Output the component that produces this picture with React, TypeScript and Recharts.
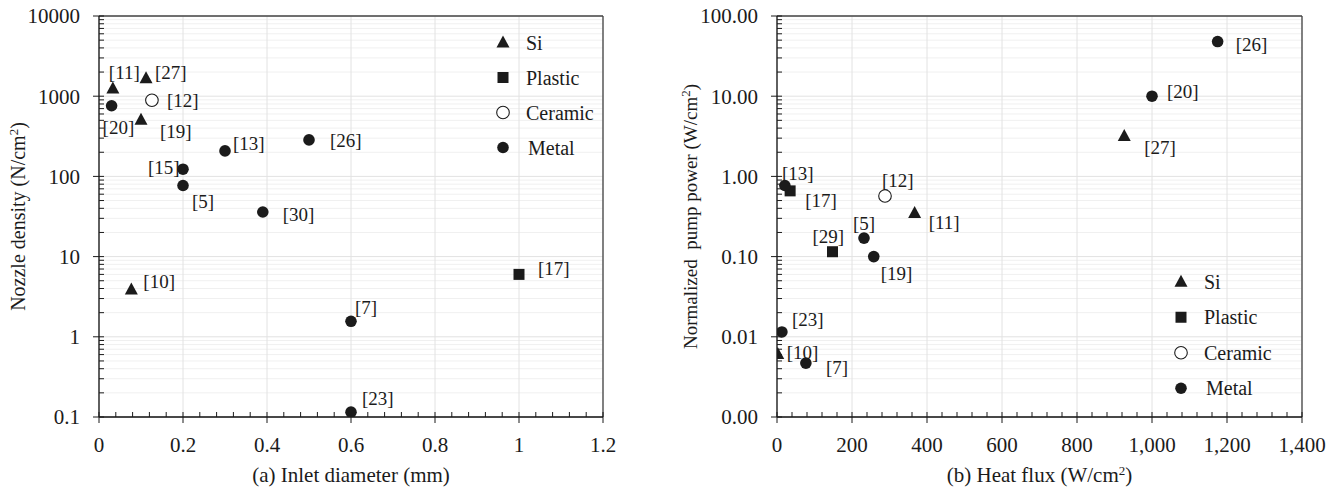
import React from 'react';
import {
  ScatterChart,
  Scatter,
  XAxis,
  YAxis,
  CartesianGrid,
  ReferenceLine,
  Legend,
} from 'recharts';

// (a) nozzle density vs inlet diameter
const SI_A = [
  { ref: '[11]', x: 0.033, y: 1250 },
  { ref: '[27]', x: 0.112, y: 1670 },
  { ref: '[19]', x: 0.1, y: 510 },
  { ref: '[10]', x: 0.077, y: 3.9 },
];
const PLASTIC_A = [{ ref: '[17]', x: 1.0, y: 6.0 }];
const CERAMIC_A = [{ ref: '[12]', x: 0.126, y: 890 }];
const METAL_A = [
  { ref: '[20]', x: 0.03, y: 760 },
  { ref: '[15]', x: 0.2, y: 123 },
  { ref: '[5]', x: 0.2, y: 77 },
  { ref: '[13]', x: 0.3, y: 208 },
  { ref: '[26]', x: 0.5, y: 285 },
  { ref: '[30]', x: 0.39, y: 36 },
  { ref: '[7]', x: 0.6, y: 1.56 },
  { ref: '[23]', x: 0.6, y: 0.115 },
];

// (b) normalized pump power vs heat flux
const SI_B = [
  { ref: '[10]', x: 2, y: 0.0061 },
  { ref: '[11]', x: 367, y: 0.35 },
  { ref: '[27]', x: 926, y: 3.2 },
];
const PLASTIC_B = [
  { ref: '[17]', x: 35, y: 0.66 },
  { ref: '[29]', x: 148, y: 0.115 },
];
const CERAMIC_B = [{ ref: '[12]', x: 288, y: 0.57 }];
const METAL_B = [
  { ref: '[26]', x: 1175, y: 48 },
  { ref: '[20]', x: 1000, y: 10 },
  { ref: '[13]', x: 21, y: 0.77 },
  { ref: '[5]', x: 232, y: 0.17 },
  { ref: '[19]', x: 258, y: 0.1 },
  { ref: '[23]', x: 13, y: 0.0115 },
  { ref: '[7]', x: 77, y: 0.0047 },
];

const MATERIALS = ['Si', 'Plastic', 'Ceramic', 'Metal'];

const X_TICKS_A = [0, 0.2, 0.4, 0.6, 0.8, 1, 1.2];
const Y_TICKS_A = [0.1, 1, 10, 100, 1000, 10000];
const X_TICKS_B = [0, 200, 400, 600, 800, 1000, 1200, 1400];
const Y_TICKS_B = [0.001, 0.01, 0.1, 1, 10, 100];

// label placement: [dx to text start, dy to text middle]
const LABEL_POS_A: Record<string, [number, number]> = {
  '[11]': [-4, -16], '[27]': [9, -6], '[12]': [15, 0], '[20]': [-9, 22],
  '[19]': [19, 12], '[13]': [8, -8], '[26]': [21, 0], '[15]': [-35, -2],
  '[5]': [9, 16], '[30]': [20, 2], '[10]': [12, -8], '[17]': [19, -6],
  '[7]': [4, -14], '[23]': [11, -14],
};
const LABEL_POS_B: Record<string, [number, number]> = {
  '[26]': [18, 3], '[20]': [15, -5], '[27]': [20, 11], '[13]': [-3, -12],
  '[17]': [15, 9], '[12]': [-3, -16], '[11]': [14, 9], '[5]': [-11, -15],
  '[29]': [-20, -15], '[19]': [7, 17], '[23]': [10, -13], '[10]': [9, -2],
  '[7]': [20, 4],
};

const FONT = "'Liberation Serif', 'DejaVu Serif', 'Times New Roman', serif";
const INK = '#1b1b1b';

const txt = (size: number) => ({ fontFamily: FONT, fontSize: size, fill: INK });

const subdivide = (majors: number[], parts: number) => {
  const out: number[] = [];
  for (let i = 0; i < majors.length - 1; i++) {
    const step = (majors[i + 1] - majors[i]) / parts;
    for (let j = 0; j < parts; j++) out.push(Number((majors[i] + j * step).toPrecision(6)));
  }
  out.push(majors[majors.length - 1]);
  return out;
};

const logMinors = (decades: number[]) => {
  const out: number[] = [];
  for (let i = 0; i < decades.length - 1; i++) {
    for (let k = 2; k <= 9; k++) out.push(Number((decades[i] * k).toPrecision(3)));
  }
  return out;
};

const isMajor = (majors: number[], v: number) =>
  majors.some((m) => Math.abs(m - v) <= Math.abs(m) * 1e-6 + 1e-9);

function Marker({ kind, cx, cy }: { kind: string; cx: number; cy: number }) {
  if (kind === 'Si') {
    return (
      <polygon
        points={`${cx},${cy - 7} ${cx - 6.5},${cy + 5} ${cx + 6.5},${cy + 5}`}
        fill={INK}
      />
    );
  }
  if (kind === 'Plastic') {
    return <rect x={cx - 5.5} y={cy - 5.5} width={11} height={11} fill={INK} />;
  }
  if (kind === 'Ceramic') {
    return <circle cx={cx} cy={cy} r={6.3} fill="#fff" stroke={INK} strokeWidth={1.1} />;
  }
  return <circle cx={cx} cy={cy} r={5.8} fill={INK} />;
}

const pointShape = (kind: string, pos: Record<string, [number, number]>) => (props: any) => {
  const { cx, cy, payload } = props;
  const [dx, dy] = pos[payload.ref] || [10, 0];
  return (
    <g>
      <Marker kind={kind} cx={cx} cy={cy} />
      <text x={cx + dx} y={cy + dy} dy="0.35em" style={txt(19)}>
        {payload.ref}
      </text>
    </g>
  );
};

const yTick = (majors: number[], fmt: (v: number) => string) => (props: any) => {
  const { x, y, payload } = props;
  const major = isMajor(majors, payload.value);
  return (
    <g>
      <line x1={major ? x - 6 : x} x2={x + 5} y1={y} y2={y} stroke={INK} strokeWidth={1} />
      {major && (
        <text x={x - 19} y={y} dy="0.35em" textAnchor="end" style={txt(21)}>
          {fmt(payload.value)}
        </text>
      )}
    </g>
  );
};

const xTick = (majors: number[], fmt: (v: number) => string) => (props: any) => {
  const { x, y, payload } = props;
  const major = isMajor(majors, payload.value);
  return (
    <g>
      <line x1={x} x2={x} y1={y - 5} y2={major ? y + 6 : y} stroke={INK} strokeWidth={1} />
      {major && (
        <text x={x} y={y + 35} textAnchor="middle" style={txt(21)}>
          {fmt(payload.value)}
        </text>
      )}
    </g>
  );
};

const xTitle = (text: string, sup: boolean) => (props: any) => {
  const { viewBox } = props;
  const cx = viewBox.x + viewBox.width / 2;
  return (
    <text x={cx} y={482} textAnchor="middle" style={txt(21)}>
      {text}
      {sup && (
        <>
          <tspan dy={-7} fontSize={13}>2</tspan>
          <tspan dy={7}>)</tspan>
        </>
      )}
    </text>
  );
};

const yTitle = (text: string, x: number, size: number) => (props: any) => {
  const { viewBox } = props;
  const cy = viewBox.y + viewBox.height / 2;
  return (
    <text
      x={x}
      y={cy}
      dy="0.35em"
      transform={`rotate(-90, ${x}, ${cy})`}
      textAnchor="middle"
      style={txt(size)}
    >
      {text}
      <tspan dy={-7} fontSize={13}>2</tspan>
      <tspan dy={7}>)</tspan>
    </text>
  );
};

const legendContent = (rowGap: number) => () => (
  <svg width={150} height={rowGap * 4} style={{ display: 'block' }}>
    {MATERIALS.map((m, i) => (
      <g key={m}>
        <Marker kind={m} cx={10} cy={rowGap / 2 + i * rowGap} />
        <text x={m === 'Metal' ? 35 : 33} y={rowGap / 2 + i * rowGap} dy="0.35em" style={txt(20)}>
          {m}
        </text>
      </g>
    ))}
  </svg>
);

const AXIS_LINE = { stroke: '#111', strokeWidth: 1.3 };
const FRAME = '#444';

function DensityChart() {
  const xTicks = subdivide(X_TICKS_A, 5);
  const yMinor = logMinors(Y_TICKS_A);
  return (
    <ScatterChart width={660} height={491} margin={{ top: 16, right: 57, bottom: 0, left: 0 }}>
      <CartesianGrid horizontal vertical={false} horizontalValues={yMinor} stroke="#f0f0f0" />
      <CartesianGrid horizontalValues={Y_TICKS_A} verticalValues={X_TICKS_A} stroke="#e2e2e2" />
      <XAxis
        type="number"
        dataKey="x"
        domain={[0, 1.2]}
        ticks={xTicks}
        interval={0}
        allowDataOverflow
        height={74}
        tickSize={0}
        tickMargin={0}
        tickLine={false}
        axisLine={AXIS_LINE}
        tick={xTick(X_TICKS_A, (v) => String(v))}
        label={{ content: xTitle('(a) Inlet diameter (mm)', false) }}
      />
      <YAxis
        type="number"
        dataKey="y"
        scale="log"
        domain={[0.1, 10000]}
        ticks={[...Y_TICKS_A, ...yMinor].sort((a, b) => a - b)}
        interval={0}
        allowDataOverflow
        width={99}
        tickSize={0}
        tickMargin={0}
        tickLine={false}
        axisLine={AXIS_LINE}
        tick={yTick(Y_TICKS_A, (v) => String(v))}
        label={{ content: yTitle('Nozzle density (N/cm', 18, 20) }}
      />
      <ReferenceLine y={10000} stroke={FRAME} strokeWidth={1.3} />
      <ReferenceLine x={1.2} stroke={FRAME} strokeWidth={1.3} />
      <Legend
        layout="vertical"
        align="center"
        verticalAlign="middle"
        content={legendContent(35)}
        wrapperStyle={{ left: 493, top: 25, width: 150 }}
      />
      <Scatter name="Si" data={SI_A} isAnimationActive={false} shape={pointShape('Si', LABEL_POS_A)} />
      <Scatter name="Plastic" data={PLASTIC_A} isAnimationActive={false} shape={pointShape('Plastic', LABEL_POS_A)} />
      <Scatter name="Ceramic" data={CERAMIC_A} isAnimationActive={false} shape={pointShape('Ceramic', LABEL_POS_A)} />
      <Scatter name="Metal" data={METAL_A} isAnimationActive={false} shape={pointShape('Metal', LABEL_POS_A)} />
    </ScatterChart>
  );
}

function PumpPowerChart() {
  const xTicks = subdivide(X_TICKS_B, 5);
  const yMinor = logMinors(Y_TICKS_B);
  return (
    <ScatterChart width={683} height={491} margin={{ top: 16, right: 41, bottom: 0, left: 0 }}>
      <CartesianGrid horizontal vertical={false} horizontalValues={yMinor} stroke="#f0f0f0" />
      <CartesianGrid horizontalValues={Y_TICKS_B} verticalValues={X_TICKS_B} stroke="#e2e2e2" />
      <XAxis
        type="number"
        dataKey="x"
        domain={[0, 1400]}
        ticks={xTicks}
        interval={0}
        allowDataOverflow
        height={74}
        tickSize={0}
        tickMargin={0}
        tickLine={false}
        axisLine={AXIS_LINE}
        tick={xTick(X_TICKS_B, (v) => v.toLocaleString('en-US'))}
        label={{ content: xTitle('(b) Heat flux (W/cm', true) }}
      />
      <YAxis
        type="number"
        dataKey="y"
        scale="log"
        domain={[0.001, 100]}
        ticks={[...Y_TICKS_B, ...yMinor].sort((a, b) => a - b)}
        interval={0}
        allowDataOverflow
        width={117}
        tickSize={0}
        tickMargin={0}
        tickLine={false}
        axisLine={AXIS_LINE}
        tick={yTick(Y_TICKS_B, (v) => v.toFixed(2))}
        label={{ content: yTitle('Normalized\u00a0 pump power (W/cm', 30, 19) }}
      />
      <ReferenceLine y={100} stroke={FRAME} strokeWidth={1.3} />
      <ReferenceLine x={1400} stroke={FRAME} strokeWidth={1.3} />
      <Legend
        layout="vertical"
        align="center"
        verticalAlign="middle"
        content={legendContent(35.5)}
        wrapperStyle={{ left: 511, top: 264, width: 150 }}
      />
      <Scatter name="Si" data={SI_B} isAnimationActive={false} shape={pointShape('Si', LABEL_POS_B)} />
      <Scatter name="Plastic" data={PLASTIC_B} isAnimationActive={false} shape={pointShape('Plastic', LABEL_POS_B)} />
      <Scatter name="Ceramic" data={CERAMIC_B} isAnimationActive={false} shape={pointShape('Ceramic', LABEL_POS_B)} />
      <Scatter name="Metal" data={METAL_B} isAnimationActive={false} shape={pointShape('Metal', LABEL_POS_B)} />
    </ScatterChart>
  );
}

export default function App() {
  return (
    <div style={{ position: 'absolute', left: 0, top: 0, width: 1343, height: 491, background: '#fff' }}>
      <div style={{ position: 'absolute', left: 0, top: 0 }}>
        <DensityChart />
      </div>
      <div style={{ position: 'absolute', left: 660, top: 0 }}>
        <PumpPowerChart />
      </div>
    </div>
  );
}
